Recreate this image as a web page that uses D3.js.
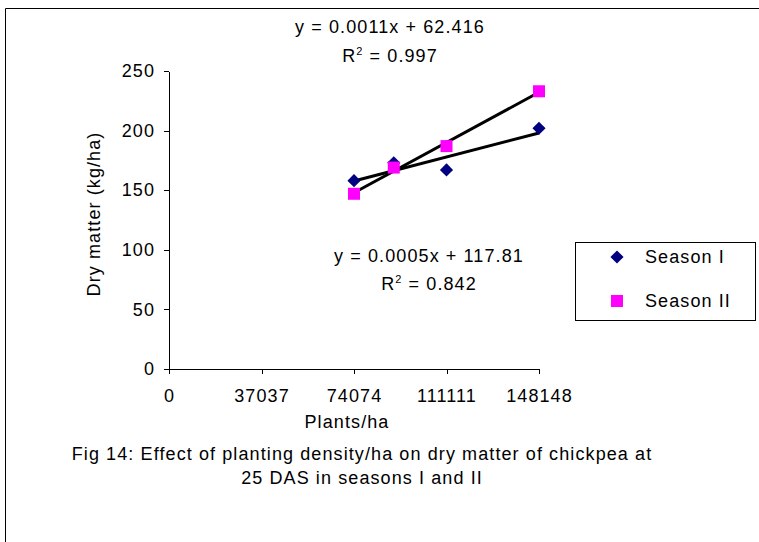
<!DOCTYPE html>
<html>
<head>
  <style>
    body{
      margin:0;
      background:#fff;
      font-family: "Liberation Sans", Arial, sans-serif;
    }
    text{
      fill:#000;
      letter-spacing:1.1px;
    }
    .axis path, .axis line{
      stroke:#000;
      stroke-width:1px;
      shape-rendering:crispEdges;
    }
    .axis text{
      font-size:18px;
      font-family:"Liberation Sans", Arial, sans-serif;
    }
    .trend{
      fill:none;
      stroke:#000;
      stroke-width:3px;
    }
  </style>
  <script src="https://d3js.org/d3.v7.min.js"></script>
</head>
<body>
<div class="chart"></div>
<script>
const plantDensity = [74074, 90000, 111111, 148148];
const seasonI = [158, 173, 167, 202];
const seasonII = [147, 169, 187, 233];
const xTicks = [0, 37037, 74074, 111111, 148148];
const yTicks = [0, 50, 100, 150, 200, 250];
const seriesNames = ['Season I', 'Season II'];
const equationLabels = [
  ['y = 0.0005x + 117.81', '0.842'],
  ['y = 0.0011x + 62.416', '0.997']
];
const captionLines = [
  'Fig 14: Effect of planting density/ha on dry matter of chickpea at',
  '25 DAS in seasons I and II'
];

const width = 759;
const height = 542;

const svg = d3.select('.chart')
  .append('svg')
  .attr('width', width)
  .attr('height', height);

// outer frame (only top and left edges show in the crop)
svg.append('path')
  .attr('d', `M5.5,${height} V8.5 H${width}`)
  .attr('fill', 'none')
  .attr('stroke', '#000')
  .attr('stroke-width', 1);

const x = d3.scaleLinear().domain([0, 148148]).range([169, 539]);
const y = d3.scaleLinear().domain([0, 250]).range([369, 71]);

svg.append('g')
  .attr('class', 'axis')
  .attr('transform', `translate(0,${y(0)})`)
  .call(d3.axisBottom(x).tickValues(xTicks).tickSize(5).tickSizeOuter(0).tickFormat(d3.format('d')).tickPadding(15));

svg.append('g')
  .attr('class', 'axis')
  .attr('transform', `translate(${x(0)},0)`)
  .call(d3.axisLeft(y).tickValues(yTicks).tickSize(5).tickSizeOuter(0).tickPadding(9));

// axis titles
svg.append('text')
  .attr('x', 347).attr('y', 428)
  .attr('text-anchor', 'middle')
  .style('font-size', '18px')
  .text('Plants/ha');

svg.append('text')
  .attr('transform', 'translate(100,214) rotate(-90)')
  .attr('text-anchor', 'middle')
  .style('font-size', '18px')
  .text('Dry matter (kg/ha)');

// least squares trendline, like the spreadsheet does
function fit(xs, ys){
  const mx = d3.mean(xs), my = d3.mean(ys);
  const sxy = d3.sum(xs, (v, i) => (v - mx) * (ys[i] - my));
  const sxx = d3.sum(xs, v => (v - mx) * (v - mx));
  const slope = sxy / sxx;
  return {slope, intercept: my - slope * mx};
}

const series = [seasonI, seasonII];
const line = d3.line().x(d => x(d[0])).y(d => y(d[1]));
const xExtent = d3.extent(plantDensity);

series.forEach(vals => {
  const f = fit(plantDensity, vals);
  svg.append('path')
    .attr('class', 'trend')
    .attr('d', line(xExtent.map(v => [v, f.intercept + f.slope * v])));
});

const diamond = d3.symbol().type(d3.symbolDiamond2).size(110);
const colors = ['#000080', '#ff00ff'];

function marker(g, i){
  if(i === 0){
    g.append('path').attr('d', diamond()).attr('fill', colors[0]);
  }else{
    g.append('rect').attr('x', -6).attr('y', -6).attr('width', 12).attr('height', 12).attr('fill', colors[1]);
  }
}

series.forEach((vals, i) => {
  svg.append('g').selectAll('g')
    .data(vals)
    .join('g')
    .attr('transform', (d, j) => `translate(${x(plantDensity[j])},${y(d)})`)
    .each(function(){ marker(d3.select(this), i); });
});

// trendline equations
const eqPos = [[429, 262, 290], [390, 33, 62]];
equationLabels.forEach((lab, i) => {
  const [cx, y1, y2] = eqPos[i];
  svg.append('text')
    .attr('x', cx).attr('y', y1)
    .attr('text-anchor', 'middle')
    .style('font-size', '18px')
    .text(lab[0]);
  const t = svg.append('text')
    .attr('x', cx).attr('y', y2)
    .attr('text-anchor', 'middle')
    .style('font-size', '18px');
  t.append('tspan').text('R');
  t.append('tspan').attr('dy', -7).style('font-size', '11px').text('2');
  t.append('tspan').attr('dy', 7).text(' = ' + lab[1]);
});

// legend
const legend = svg.append('g');
legend.append('rect')
  .attr('x', 575.5).attr('y', 242.5)
  .attr('width', 180).attr('height', 78)
  .attr('fill', '#fff').attr('stroke', '#000');

seriesNames.forEach((name, i) => {
  const g = legend.append('g').attr('transform', `translate(617,${257 + i * 44})`);
  marker(g, i);
  g.append('text')
    .attr('x', 28).attr('y', 6)
    .style('font-size', '18px')
    .text(name);
});

// caption
captionLines.forEach((txt, i) => {
  svg.append('text')
    .attr('x', 362).attr('y', 460 + i * 24)
    .attr('text-anchor', 'middle')
    .style('font-size', '18px')
    .text(txt);
});
</script>
</body>
</html>
